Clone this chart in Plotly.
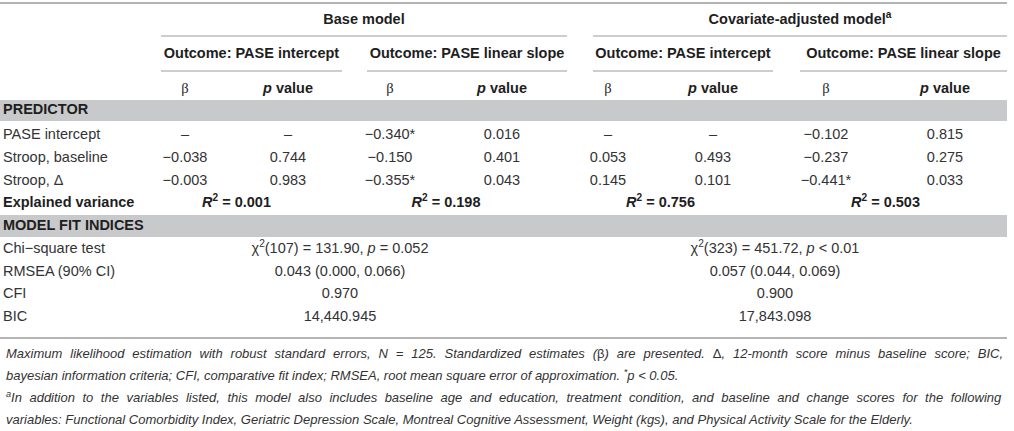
import plotly.graph_objects as go

# dane tabeli
predictors = ["PASE intercept", "Stroop, baseline", "Stroop, Δ"]
# kolejnosc kolumn: base/intercept, base/slope, cov/intercept, cov/slope
beta_values = [
    [None, -0.038, -0.003],
    [-0.340, -0.150, -0.355],
    [None, 0.053, 0.145],
    [-0.102, -0.237, -0.441],
]
p_values = [
    [None, 0.744, 0.983],
    [0.016, 0.401, 0.043],
    [None, 0.493, 0.101],
    [0.815, 0.275, 0.033],
]
r_squared = [0.001, 0.198, 0.756, 0.503]

fit_labels = ["Chi−square test", "RMSEA (90% CI)", "CFI", "BIC"]
base_fit = ["χ<sup>2</sup>(107) = 131.90, <i>p</i> = 0.052",
            "0.043 (0.000, 0.066)", "0.970", "14,440.945"]
cov_fit = ["χ<sup>2</sup>(323) = 451.72, <i>p</i> < 0.01",
           "0.057 (0.044, 0.069)", "0.900", "17,843.098"]

models = ["Base model", "Covariate-adjusted model<sup>a</sup>"]
outcomes = ["Outcome: PASE intercept", "Outcome: PASE linear slope"] * 2

footnotes = [
    "<i>Maximum likelihood estimation with robust standard errors, N = 125. Standardized estimates (</i>β<i>) are presented. </i>Δ<i>, 12-month score minus baseline score; BIC,</i>",
    "<i>bayesian information criteria; CFI, comparative fit index; RMSEA, root mean square error of approximation. <sup>*</sup>p < 0.05.</i>",
    "<i><sup>a</sup>In addition to the variables listed, this model also includes baseline age and education, treatment condition, and baseline and change scores for the following</i>",
    "<i>variables: Functional Comorbidity Index, Geriatric Depression Scale, Montreal Cognitive Assessment, Weight (kgs), and Physical Activity Scale for the Elderly.</i>",
]
# rozstrzelenie slow dla wyjustowanych linii
note_spacing = [4.3, 0, 3.9, 0]

# uklad (piksele)
W, H = 1014, 431
RIGHT = 1007
LEFT = 3
beta_x = [185, 390, 608, 826]
p_x = [288, 502, 713, 945]
group_span = [(161, 342), (367, 567), (593, 773), (800, RIGHT)]
model_span = [(161, 567), (593, RIGHT)]
fit_x = [340, 775]
y_model, y_model_line = 20, 36
y_outcome, y_outcome_line = 54, 71
y_head = 89
band1 = (100, 121)
y_rows = [135, 158, 181]
y_expl = 203
band2 = (215, 237)
y_fit = [249, 272, 294, 317]
y_bottom = 338
y_notes = [353, 375, 397, 419]

FONT = "Liberation Sans, Arial, Helvetica, sans-serif"
SERIF = "Liberation Serif, Times New Roman, serif"
TXT = "#333333"
BOLD = "#1e1e1e"
FS = 14.5


def fmt(v, p=None):
    if v is None:
        return "–"
    s = f"{abs(v):.3f}"
    if v < 0:
        s = "−" + s
    if p is not None and p < 0.05:
        s += "*"
    return s


fig = go.Figure()


def add_text(xs, ys, texts, pos="middle center", color=TXT, size=FS):
    fig.add_trace(go.Scatter(
        x=xs, y=ys, text=texts, mode="text", textposition=pos,
        textfont=dict(family=FONT, size=size, color=color),
        hoverinfo="skip", showlegend=False, cliponaxis=False
    ))


# pasy szare
for b in (band1, band2):
    fig.add_shape(type="rect", x0=0, x1=RIGHT, y0=b[0], y1=b[1],
                  fillcolor="#c8c9cb", line_width=0, layer="below")
# linie
for yy in (3, y_bottom):
    fig.add_shape(type="line", x0=0, x1=RIGHT, y0=yy, y1=yy,
                  line=dict(color="#b4b4b4", width=2))
for (a, b) in model_span:
    fig.add_shape(type="line", x0=a, x1=b, y0=y_model_line, y1=y_model_line,
                  line=dict(color="#bdbdbd", width=1.5))
for (a, b) in group_span:
    fig.add_shape(type="line", x0=a, x1=b, y0=y_outcome_line, y1=y_outcome_line,
                  line=dict(color="#bdbdbd", width=1.5))

# naglowki
add_text([(a + b) / 2 for a, b in model_span], [y_model] * 2,
         [f"<b>{m}</b>" for m in models], color=BOLD)
add_text([(a + b) / 2 for a, b in group_span], [y_outcome] * 4,
         [f"<b>{o}</b>" for o in outcomes], color=BOLD)
add_text(beta_x, [y_head] * 4,
         [f'<span style="font-family:{SERIF}">β</span>'] * 4, color=BOLD)
add_text(p_x, [y_head] * 4, ["<b><i>p</i> value</b>"] * 4, color=BOLD)

# sekcje
add_text([LEFT], [sum(band1) / 2], ["<b>PREDICTOR</b>"], pos="middle right", color=BOLD)
add_text([LEFT], [sum(band2) / 2], ["<b>MODEL FIT INDICES</b>"], pos="middle right", color=BOLD)

# predyktory
add_text([LEFT] * 3, y_rows, predictors, pos="middle right")
for k in range(4):
    add_text([beta_x[k]] * 3, y_rows,
             [fmt(b, p) for b, p in zip(beta_values[k], p_values[k])])
    add_text([p_x[k]] * 3, y_rows, [fmt(p) for p in p_values[k]])

add_text([LEFT], [y_expl], ["<b>Explained variance</b>"], pos="middle right", color=BOLD)
add_text([(beta_x[k] + p_x[k]) / 2 for k in range(4)], [y_expl] * 4,
         [f"<b><i>R</i><sup>2</sup> = {r:.3f}</b>" for r in r_squared], color=BOLD)

# dopasowanie modelu
add_text([LEFT] * 4, y_fit, fit_labels, pos="middle right")
add_text([fit_x[0]] * 4, y_fit, base_fit)
add_text([fit_x[1]] * 4, y_fit, cov_fit)

# przypisy
for t, yy, ws in zip(footnotes, y_notes, note_spacing):
    if ws:
        t = f'<span style="word-spacing:{ws}px">{t}</span>'
    fig.add_annotation(x=4, y=yy, text=t, xanchor="left", yanchor="middle",
                       showarrow=False, font=dict(family=FONT, size=13, color=TXT))

fig.update_layout(
    width=W, height=H,
    margin=dict(l=0, r=0, t=0, b=0),
    paper_bgcolor="white", plot_bgcolor="white",
    xaxis=dict(range=[0, W], visible=False, fixedrange=True),
    yaxis=dict(range=[H, 0], visible=False, fixedrange=True),
)

fig.write_html("out.html", config={"displayModeBar": False},
               post_script="document.body.style.margin='0px';document.body.style.overflow='hidden';")
